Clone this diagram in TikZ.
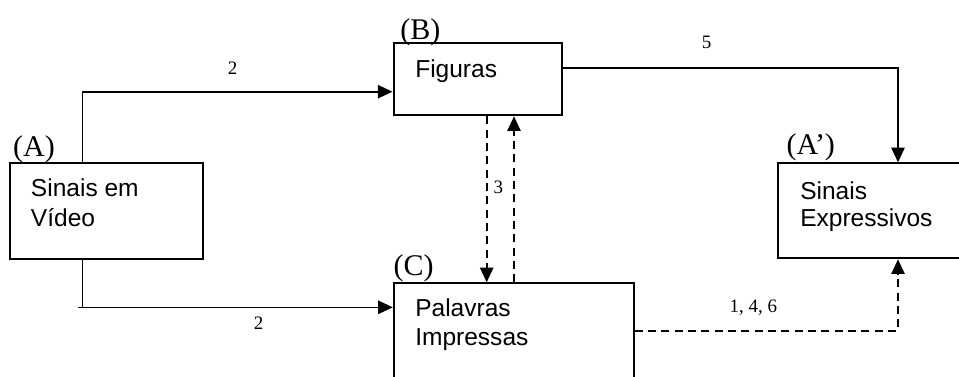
\documentclass[tikz,border=0pt]{standalone}
\usepackage{fontspec}
\setmainfont{Liberation Serif}
\newfontfamily\arialf{Liberation Sans}
\usetikzlibrary{arrows.meta,fit}
\begin{document}
\begin{tikzpicture}[x=0.75pt,y=-0.75pt,
 box/.style={draw, line width=1.5pt, inner sep=0pt, rectangle},
 conn/.style={line width=1.2pt, -{Triangle[length=11pt,width=10pt]}},
 dconn/.style={conn, dash pattern=on 6pt off 4pt},
 txt/.style={font=\arialf\fontsize{18.4pt}{22pt}\selectfont, anchor=base west, inner sep=0pt},
 tag/.style={font=\fontsize{22.5pt}{26pt}\selectfont, anchor=base, inner sep=0pt},
 num/.style={font=\fontsize{14.25pt}{17pt}\selectfont, anchor=base, inner sep=0pt}]
\useasboundingbox (0,0) rectangle (959,376);
\clip (0,0) rectangle (959,376);
\fill[white] (0,0) rectangle (959,376);
% boxes
\node[box, fit={(10,163.3) (202.5,259.3)}] (A) {};
\node[box, fit={(393.5,43.3) (562.3,115.3)}] (B) {};
\node[box, fit={(393.8,283.3) (633.8,420)}] (C) {};
\node[box, fit={(778.3,163.3) (1000,258.3)}] (Ap) {};
% box texts
\node[txt] (tA1) at (30.7,196.7) {Sinais em};
\node[txt] (tA2) at (30.7,226.7) {Vídeo};
\node[txt] (tB) at (415,77.3) {Figuras};
\node[txt] (tC1) at (415,316.7) {Palavras};
\node[txt] (tC2) at (415,345) {Impressas};
\node[txt] (tAp1) at (800,199.3) {Sinais};
\node[txt] (tAp2) at (800,226.7) {Expressivos};
% tags
\node[tag] (lA) at (34,156) {(A)};
\node[tag] (lB) at (420.3,39.5) {(B)};
\node[tag] (lC) at (413.7,275) {(C)};
\node[tag] (lAp) at (810.8,154) {(A’)};
% connectors
\coordinate (a1) at (82.3,91.7);
\draw[conn] (A.north -| a1) -- (a1) -- (B.west |- a1);
\coordinate (a2) at (82.3,307.3);
\coordinate (a2s) at (78,307.3);
\draw[line width=1.2pt] (a2s) -- (a2);
\draw[conn] (A.south -| a2) -- (a2) -- (C.west |- a2);
\coordinate (b1) at (898,67.7);
\draw[conn] (B.east |- b1) -- (b1) -- (Ap.north -| b1);
\coordinate (d1) at (486.7,0);
\draw[dconn] (B.south -| d1) -- (C.north -| d1);
\coordinate (d2) at (514,0);
\draw[dconn] (C.north -| d2) -- (B.south -| d2);
\coordinate (c1) at (898,330.7);
\draw[dconn] (C.east |- c1) -- (c1) -- (Ap.south -| c1);
% numbers
\node[num] (n2a) at (232.5,74) {2};
\node[num] (n2b) at (258.7,329) {2};
\node[num] (n5) at (706.5,48.5) {5};
\node[num] (n3) at (498.3,193.3) {3};
\node[num] (n146) at (753.3,312.7) {1, 4, 6};
\end{tikzpicture}
\end{document}
